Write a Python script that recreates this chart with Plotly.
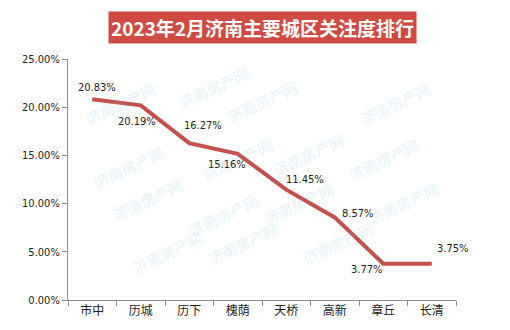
import plotly.graph_objects as go

categories = ["市中", "历城", "历下", "槐荫", "天桥", "高新", "章丘", "长清"]
values = [20.83, 20.19, 16.27, 15.16, 11.45, 8.57, 3.77, 3.75]
title_text = "2023年2月济南主要城区关注度排行"

# label offsets (px) relative to each point
label_dx = [5, -4, 14, -11, 19, 23, -17, 21]
label_dy = [12, -16, 18, -11, 10, 4, -6, 15]

num_font = "DejaVu Sans Condensed, DejaVu Sans"

fig = go.Figure()
fig.add_trace(go.Scatter(
    x=categories, y=values, mode="lines",
    line=dict(color="#C5504B", width=4),
    hoverinfo="skip", showlegend=False,
))

for c, v, dx, dy in zip(categories, values, label_dx, label_dy):
    fig.add_annotation(
        x=c, y=v, text=f"{v:.2f}%", showarrow=False,
        xshift=dx, yshift=dy,
        font=dict(family=num_font, size=11, color="#222222"),
    )

# watermark-like faint text
wm = [(0.03, 0.93), (0.27, 1.00), (0.50, 0.94), (0.95, 0.93), (0.05, 0.55),
      (0.33, 0.70), (0.62, 0.72), (0.92, 0.70), (0.10, 0.30), (0.40, 0.35),
      (0.70, 0.40), (0.97, 0.40), (0.15, 0.08), (0.45, 0.12), (0.80, 0.12)]
for wx, wy in wm:
    fig.add_annotation(
        x=wx, y=wy, xref="paper", yref="paper", text="济南房产网",
        showarrow=False, textangle=-25,
        font=dict(family="Noto Sans CJK SC", size=15, color="rgba(120,190,225,0.22)"),
    )

fig.add_annotation(
    x=0.5, y=1, xref="paper", yref="paper", xanchor="center", yanchor="bottom",
    text=f"<b>{title_text}</b>", showarrow=False,
    yshift=15, bgcolor="#D04A44", borderpad=2,
    font=dict(family="Noto Sans CJK SC", size=19, color="white"),
)

fig.update_layout(
    width=510, height=330,
    margin=dict(l=68, r=54, t=59, b=26),
    paper_bgcolor="white", plot_bgcolor="white",
    xaxis=dict(
        type="category", range=[-0.5, 7.5], tickson="boundaries",
        showline=True, linecolor="#8C8C8C", linewidth=1,
        ticks="outside", ticklen=5, tickcolor="#8C8C8C",
        showgrid=False, zeroline=False,
        tickfont=dict(family="Noto Sans CJK SC", size=12, color="#222222"),
    ),
    yaxis=dict(
        range=[0, 25], dtick=5, tickformat=".2f", ticksuffix="%",
        showline=True, linecolor="#8C8C8C", linewidth=1,
        ticks="outside", ticklen=5, tickcolor="#8C8C8C",
        showgrid=False, zeroline=False,
        tickfont=dict(family=num_font, size=11, color="#222222"),
    ),
)

fig.write_html("out.html")
